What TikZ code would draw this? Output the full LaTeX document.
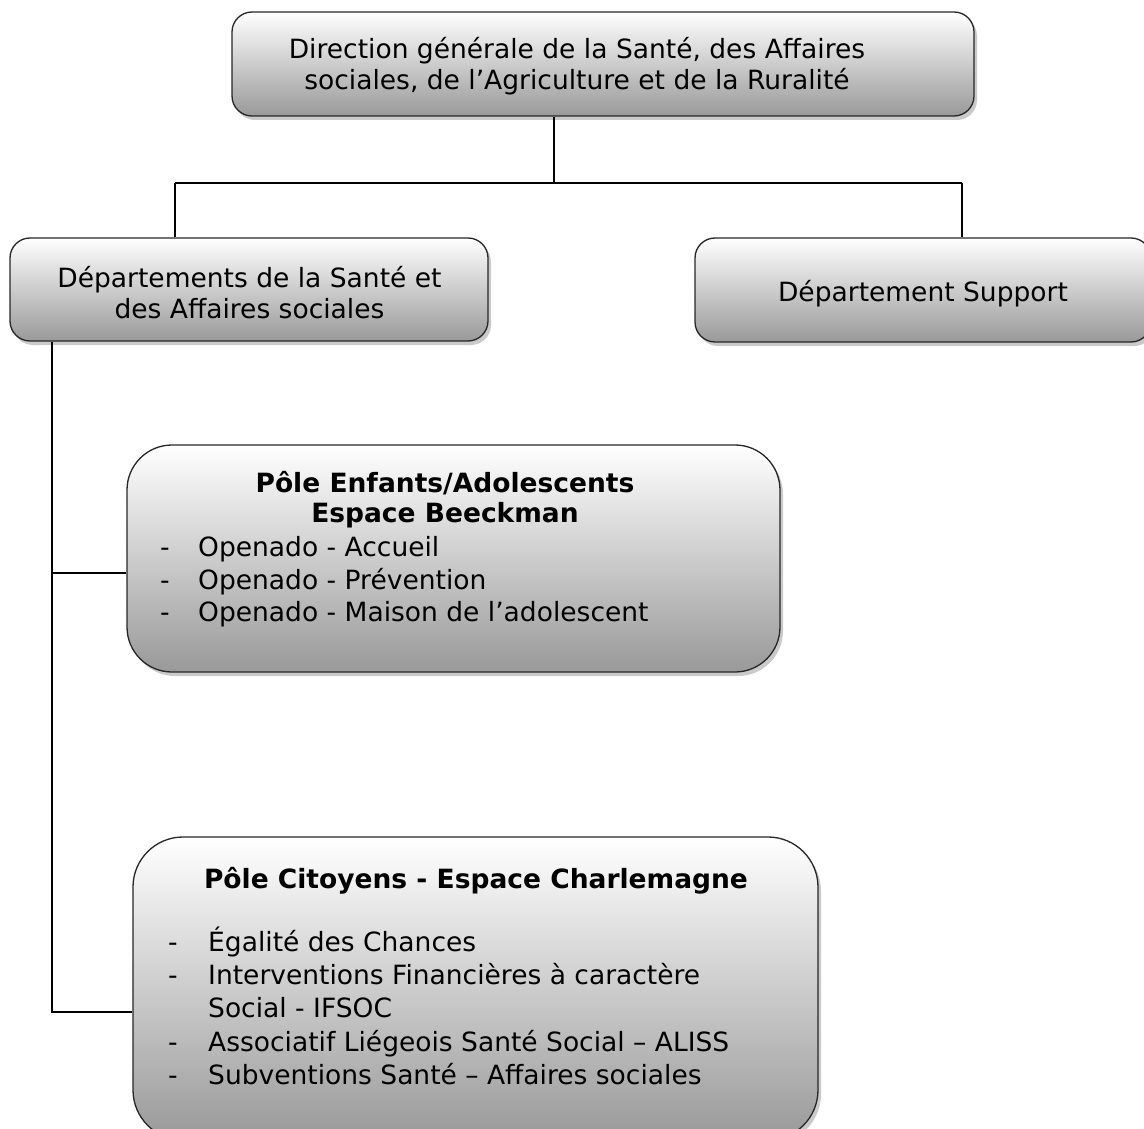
\documentclass[tikz,border=0pt]{standalone}
\usepackage{fontspec}
\setmainfont{DejaVu Sans}
\usetikzlibrary{shadows}
\tikzset{
  box/.style={draw=black!85, line width=1.3pt, rounded corners=#1,
    top color=white, bottom color=black!40,
    drop shadow={opacity=0.35, shadow xshift=3pt, shadow yshift=-4pt, fill=black!60},
    inner sep=0pt},
  box/.default=20pt,
  conn/.style={draw=black, line width=1.5pt},
  lbl/.style={inner sep=0pt, align=center, font=\fontsize{26.5}{31}\selectfont},
  txt/.style={inner sep=0pt, anchor=mid west, font=\fontsize{26.5}{31}\selectfont},
  ttl/.style={inner sep=0pt, anchor=mid, font=\fontsize{26.5}{31}\selectfont\bfseries}
}
\begin{document}
\begin{tikzpicture}[x=1pt,y=-1pt]
\useasboundingbox (0,0) rectangle (1144,1129);
% boxes
\node[box, minimum width=742pt, minimum height=104pt] (top) at (603,64) {};
\node[box, minimum width=478pt, minimum height=103pt] (dsa) at (249,289.5) {};
\node[box, minimum width=456pt, minimum height=104pt] (dsup) at (923,290) {};
\node[box=45pt, minimum width=653pt, minimum height=227pt] (enf) at (453.5,558.5) {};
\node[box=50pt, minimum width=685pt, minimum height=303pt] (cit) at (475.5,988.5) {};
% box labels
\node[lbl] (topl) at (577,66) {Direction générale de la Santé, des Affaires\\sociales, de l’Agriculture et de la Ruralité};
\node[lbl] (dsal) at (249.5,293) {Départements de la Santé et\\des Affaires sociales};
\node[lbl] (dsupl) at (923,294) {Département Support};
% connectors
\coordinate (hm) at (554,183);
\coordinate (hl) at (175,183);
\coordinate (hr) at (962,183);
\coordinate (tr) at (52,1012);
\coordinate (te) at (52,573);
\draw[conn] (hm |- top.south) -- (hm);
\draw[conn] (hl) -- (hr);
\draw[conn] (hl) -- (hl |- dsa.north);
\draw[conn] (hr) -- (hr |- dsup.north);
\draw[conn] (tr |- dsa.south) -- (tr) -- (tr -| cit.west);
\draw[conn] (te) -- (te -| enf.west);
% Pole Enfants text
\node[ttl] (e1) at (445,490) {Pôle Enfants/Adolescents};
\node[ttl] (e2) at (445,520) {Espace Beeckman};
\node[txt] (ed1) at (160,554) {-};
\node[txt] (ed2) at (160,587) {-};
\node[txt] (ed3) at (160,619) {-};
\node[txt] (et1) at (198,554) {Openado - Accueil};
\node[txt] (et2) at (198,587) {Openado - Prévention};
\node[txt] (et3) at (198,619) {Openado - Maison de l’adolescent};
% Pole Citoyens text
\node[ttl] (c1) at (476,886) {Pôle Citoyens - Espace Charlemagne};
\node[txt] (cd1) at (168,949) {-};
\node[txt] (cd2) at (168,982) {-};
\node[txt] (cd3) at (168,1049) {-};
\node[txt] (cd4) at (168,1082) {-};
\node[txt] (ct1) at (208,949) {Égalité des Chances};
\node[txt] (ct2) at (208,982) {Interventions Financières à caractère};
\node[txt] (ct2b) at (208,1015) {Social - IFSOC};
\node[txt] (ct3) at (208,1049) {Associatif Liégeois Santé Social – ALISS};
\node[txt] (ct4) at (208,1082) {Subventions Santé – Affaires sociales};
\end{tikzpicture}
\end{document}
